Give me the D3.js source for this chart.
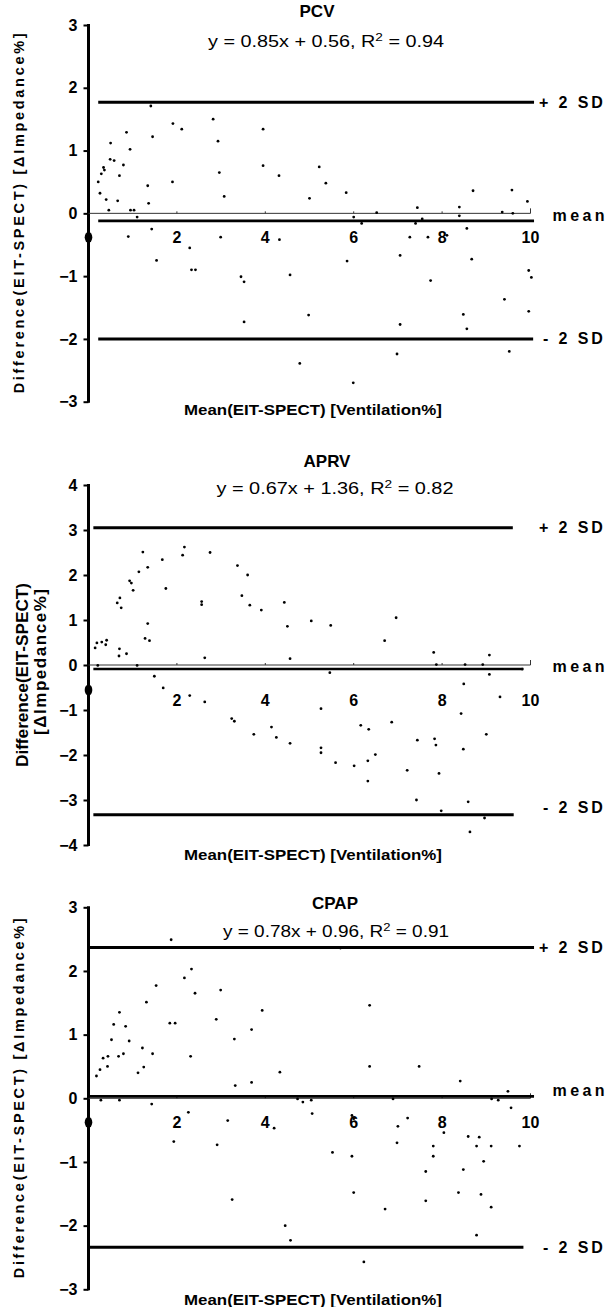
<!DOCTYPE html>
<html>
<head>
<meta charset="utf-8">
<script src="https://cdn.jsdelivr.net/npm/d3@7"></script>
<style>
  body { margin: 0; background: #fff; }
  svg { display: block; font-family: "Liberation Sans", Arial, sans-serif; }
</style>
</head>
<body>
<svg width="611" height="1307"></svg>
<script>
// Bland-Altman plots, EIT vs SPECT, three ventilation modes

var panelNames = ["PCV", "APRV", "CPAP"];
var slopes = ["0.85", "0.67", "0.78"];
var intercepts = ["0.56", "1.36", "0.96"];
var r2 = ["0.94", "0.82", "0.91"];
var plusSD = [1.77, 3.05, 2.37];
var meanDiff = [-0.12, -0.09, 0.03];
var minusSD = [-2.0, -3.33, -2.34];
var yDomains = [[-3, 3], [-4, 4], [-3, 3]];
var xTicks = [2, 4, 6, 8, 10];

// [mean, difference]
var pcvPoints = [
	[0.22,0.50],[0.26,0.32],[0.29,0.63],[0.34,0.73],[0.36,0.69],[0.40,0.22],[0.46,0.05],[0.50,1.12],
	[0.49,0.86],[0.58,0.84],[0.66,0.20],[0.70,0.60],[0.79,0.77],[0.86,1.29],[0.94,1.02],[0.90,-0.37],
	[0.95,0.05],[1.03,0.05],[1.10,-0.06],[1.34,0.44],[1.36,0.16],[1.41,1.71],[1.45,1.22],[1.43,-0.25],
	[1.54,-0.75],[1.90,0.50],[1.91,1.43],[2.11,1.34],[2.29,-0.55],[2.33,-0.90],[2.42,-0.90],[2.82,1.50],
	[2.93,1.15],[2.96,0.65],[2.99,-0.38],[3.07,0.27],[3.45,-1.01],[3.52,-1.09],[3.52,-1.73],[3.95,1.34],
	[3.95,0.76],[4.31,0.60],[4.32,-0.42],[4.56,-0.98],[4.78,-2.39],[4.98,-1.62],[5.00,0.24],[5.22,0.74],
	[5.37,0.48],[5.83,0.33],[5.85,-0.76],[5.99,-2.70],[6.00,-0.06],[6.18,-0.16],[6.52,0.01],[6.98,-2.24],
	[7.05,-0.67],[7.05,-1.77],[7.27,-0.38],[7.40,-0.16],[7.44,0.09],[7.55,-0.09],[7.68,-0.38],[7.74,-1.07],
	[8.11,-0.35],[8.39,0.10],[8.39,-0.04],[8.48,-1.61],[8.56,-0.24],[8.56,-1.84],[8.67,-0.73],[8.70,0.36],
	[9.36,0.02],[9.41,-1.37],[9.52,-2.20],[9.58,0.37],[9.60,0.00],[9.93,0.19],[9.96,-0.91],[10.02,-1.02],
	[9.96,-1.56]
];

var aprvPoints = [
	[0.15,0.38],[0.19,0.49],[0.21,-0.01],[0.30,0.51],[0.39,0.45],[0.41,0.55],[0.65,1.38],[0.69,0.20],
	[0.70,0.36],[0.71,1.49],[0.74,1.27],[0.86,0.25],[0.93,1.87],[0.97,1.82],[1.01,1.66],[1.10,-0.01],
	[1.14,2.07],[1.23,2.51],[1.28,0.59],[1.34,0.92],[1.34,2.17],[1.38,0.54],[1.49,-0.25],[1.67,2.34],
	[1.69,-0.51],[1.75,1.70],[2.13,2.44],[2.17,2.62],[2.29,-0.68],[2.56,1.41],[2.56,1.34],[2.63,0.16],
	[2.63,-0.82],[2.75,2.50],[3.24,-1.19],[3.30,-1.25],[3.37,2.21],[3.47,1.54],[3.60,2.00],[3.65,1.33],
	[3.74,-1.54],[3.91,1.22],[4.14,-1.38],[4.25,-1.61],[4.43,1.39],[4.50,0.86],[4.56,0.14],[4.56,-1.74],
	[5.04,0.98],[5.26,-0.97],[5.26,-1.84],[5.26,-1.95],[5.46,-0.17],[5.48,0.88],[5.59,-2.17],[6.01,-2.24],
	[6.16,-1.34],[6.32,-2.13],[6.32,-2.58],[6.34,-1.43],[6.49,-1.99],[6.70,0.54],[6.86,-1.27],[6.96,1.05],
	[7.21,-2.34],[7.42,-3.00],[7.44,-1.67],[7.81,0.28],[7.83,-1.64],[7.86,-1.78],[7.87,0.01],[7.93,-2.41],
	[7.98,-3.24],[8.43,-1.08],[8.48,-1.87],[8.49,-0.42],[8.52,0.01],[8.59,-3.04],[8.63,-3.71],[8.92,0.01],
	[8.96,-3.40],[9.00,-1.54],[9.07,0.22],[9.07,-0.21],[9.31,-0.71],[9.81,-0.09]
];

var cpapPoints = [
	[0.18,0.35],[0.26,0.45],[0.28,-0.03],[0.33,0.63],[0.43,0.50],[0.44,0.66],[0.52,0.92],[0.57,1.16],
	[0.68,0.66],[0.70,1.35],[0.70,-0.03],[0.79,0.70],[0.84,1.13],[0.92,0.90],[1.12,0.40],[1.22,0.79],
	[1.25,0.49],[1.31,1.51],[1.43,-0.09],[1.45,0.70],[1.53,1.77],[1.84,1.18],[1.87,2.49],[1.93,-0.68],
	[1.96,1.18],[2.17,1.89],[2.26,-0.22],[2.31,0.66],[2.33,2.03],[2.41,1.65],[2.89,1.24],[2.91,-0.73],
	[2.99,1.70],[3.15,-0.35],[3.25,-1.59],[3.30,0.93],[3.32,0.20],[3.69,1.08],[3.69,0.25],[3.93,1.38],
	[4.20,-0.47],[4.33,0.41],[4.45,-2.00],[4.57,-2.23],[4.73,-0.01],[4.85,-0.06],[5.04,-0.03],[5.06,-0.24],
	[5.52,-0.85],[5.70,2.36],[5.96,-0.27],[5.96,-0.91],[6.00,-0.32],[6.00,-1.48],[6.23,-2.57],[6.36,1.46],
	[6.36,0.50],[6.71,-1.74],[6.89,-0.01],[6.98,-0.70],[7.00,-0.44],[7.22,-0.31],[7.48,0.50],[7.63,-1.15],
	[7.63,-1.61],[7.80,-0.75],[7.80,-0.91],[8.04,-0.54],[8.37,-1.48],[8.41,0.27],[8.48,-1.12],[8.59,-0.60],
	[8.78,-0.75],[8.78,-2.15],[8.84,-0.61],[8.88,-1.51],[8.94,-0.99],[9.11,-0.75],[9.11,-1.71],[9.12,-0.01],
	[9.27,-0.03],[9.49,0.11],[9.56,-0.15],[9.75,-0.75]
];

var allPoints = [pcvPoints, aprvPoints, cpapPoints];

// pixel layout of each panel
var layout = [
	{yTop: 25, yBot: 401.7, titleY: 17, titleX: 317, eqY: 47, eqX: 326, eqLen: 236,
	 tickDy: 24, xTitleY: 415, blobY: 237.3, lineStart: 0.22, upEnd: 10.08, meanEnd: 10.08, lowEnd: 10.06,
	 meanDy: -5, lowDy: 0},
	{yTop: 485, yBot: 845, titleY: 467, titleX: 327, eqY: 494, eqX: 335, eqLen: 237,
	 tickDy: 35, xTitleY: 860, blobY: 690, lineStart: 0.11, upEnd: 9.6, meanEnd: 9.84, lowEnd: 9.62,
	 meanDy: -3, lowDy: -7},
	{yTop: 907.3, yBot: 1289.3, titleY: 909, titleX: 335, eqY: 937, eqX: 336, eqLen: 226,
	 tickDy: 24, xTitleY: 1305, blobY: 1122.3, lineStart: 0.03, upEnd: 10.08, meanEnd: 10.08, lowEnd: 9.84,
	 meanDy: -6, lowDy: 0}
];

var svg = d3.select("svg");
var x = d3.scaleLinear().domain([0, 10]).range([88.5, 530.5]);

panelNames.forEach(function(name, i) {
	var L = layout[i];
	var y = d3.scaleLinear().domain(yDomains[i]).range([L.yBot, L.yTop]);
	var g = svg.append("g");

	// y axis
	var yAxis = d3.axisLeft(y)
		.tickValues(d3.range(yDomains[i][0], yDomains[i][1] + 1))
		.tickSize(5)
		.tickPadding(6)
		.tickFormat(d3.format("d"));
	var ya = g.append("g")
		.attr("transform", "translate(" + x(0) + ",0)")
		.call(yAxis);
	ya.select(".domain").remove();
	ya.selectAll(".tick line").attr("stroke", "#000").attr("stroke-width", 2);
	ya.selectAll(".tick text")
		.attr("font-size", 16).attr("font-weight", "bold").attr("fill", "#000")
		.attr("font-family", "Liberation Sans, Arial, sans-serif");
	g.append("line")
		.attr("x1", x(0)).attr("x2", x(0))
		.attr("y1", L.yTop - 1).attr("y2", L.yBot + 1)
		.attr("stroke", "#000").attr("stroke-width", 3);

	// zero line with small ticks
	g.append("line")
		.attr("x1", x(0)).attr("x2", x(10))
		.attr("y1", y(0)).attr("y2", y(0))
		.attr("stroke", "#333").attr("stroke-width", 1);
	g.selectAll(".zt").data(xTicks).enter().append("line")
		.attr("x1", d => x(d)).attr("x2", d => x(d))
		.attr("y1", y(0)).attr("y2", d => y(0) - (d === 10 ? 5 : 2))
		.attr("stroke", "#333").attr("stroke-width", 1);
	g.selectAll(".xl").data(xTicks).enter().append("text")
		.attr("x", d => x(d))
		.attr("y", y(0) + L.tickDy + 6)
		.attr("text-anchor", "middle")
		.attr("font-size", 16).attr("font-weight", "bold")
		.text(d => d);

	// squashed zero label on the axis
	g.append("ellipse")
		.attr("cx", x(0)).attr("cy", L.blobY)
		.attr("rx", 3.8).attr("ry", 5.5)
		.attr("fill", "#000");

	// limits of agreement and mean
	var lines = [
		{v: plusSD[i], end: L.upEnd, w: 3, lab: "+ 2 SD", len: 64, dy: 0, lx: 10.19},
		{v: meanDiff[i], end: L.meanEnd, w: 2.6, lab: "mean", len: 52, dy: L.meanDy, lx: 10.5},
		{v: minusSD[i], end: L.lowEnd, w: 3, lab: "- 2 SD", len: 60, dy: L.lowDy, lx: 10.28}
	];
	g.selectAll(".sd").data(lines).enter().append("line")
		.attr("x1", x(L.lineStart)).attr("x2", d => x(d.end))
		.attr("y1", d => y(d.v)).attr("y2", d => y(d.v))
		.attr("stroke", "#000").attr("stroke-width", d => d.w);
	g.selectAll(".sdl").data(lines).enter().append("text")
		.attr("x", d => x(d.lx))
		.attr("y", d => y(d.v) + d.dy + 5.5)
		.attr("font-size", 16).attr("font-weight", "bold")
		.attr("textLength", d => d.len).attr("lengthAdjust", "spacing")
		.text(d => d.lab);

	// points
	g.selectAll(".pt").data(allPoints[i]).enter().append("circle")
		.attr("cx", d => x(d[0])).attr("cy", d => y(d[1]))
		.attr("r", 1.4).attr("fill", "#000");

	// titles
	g.append("text")
		.attr("x", L.titleX).attr("y", L.titleY)
		.attr("text-anchor", "middle")
		.attr("font-size", 17).attr("font-weight", "bold")
		.text(name);
	var eq = g.append("text")
		.attr("x", L.eqX).attr("y", L.eqY)
		.attr("text-anchor", "middle")
		.attr("font-size", 16)
		.attr("textLength", L.eqLen).attr("lengthAdjust", "spacingAndGlyphs");
	eq.append("tspan").text("y = " + slopes[i] + "x + " + intercepts[i] + ", R");
	eq.append("tspan").attr("dy", -6).attr("font-size", 11).text("2");
	eq.append("tspan").attr("dy", 6).text(" = " + r2[i]);

	g.append("text")
		.attr("x", 313).attr("y", L.xTitleY)
		.attr("text-anchor", "middle")
		.attr("font-size", 15).attr("font-weight", "bold")
		.attr("textLength", 258).attr("lengthAdjust", "spacingAndGlyphs")
		.text("Mean(EIT-SPECT) [Ventilation%]");

	// y title
	var cy = (L.yTop + L.yBot) / 2;
	if (i === 1) {
		g.append("text")
			.attr("transform", "translate(28," + 675 + ") rotate(-90)")
			.attr("text-anchor", "middle")
			.attr("font-size", 17).attr("font-weight", "bold")
			.attr("textLength", 184).attr("lengthAdjust", "spacingAndGlyphs")
			.text("Difference(EIT-SPECT)");
		g.append("text")
			.attr("transform", "translate(46," + 662 + ") rotate(-90)")
			.attr("text-anchor", "middle")
			.attr("font-size", 17).attr("font-weight", "bold")
			.attr("textLength", 146).attr("lengthAdjust", "spacing")
			.text("[ΔImpedance%]");
	} else {
		g.append("text")
			.attr("transform", "translate(24," + cy + ") rotate(-90)")
			.attr("text-anchor", "middle")
			.attr("font-size", 14.5).attr("font-weight", "bold")
			.attr("textLength", 360).attr("lengthAdjust", "spacing")
			.text("Difference(EIT-SPECT) [ΔImpedance%]");
	}
});
</script>
</body>
</html>
